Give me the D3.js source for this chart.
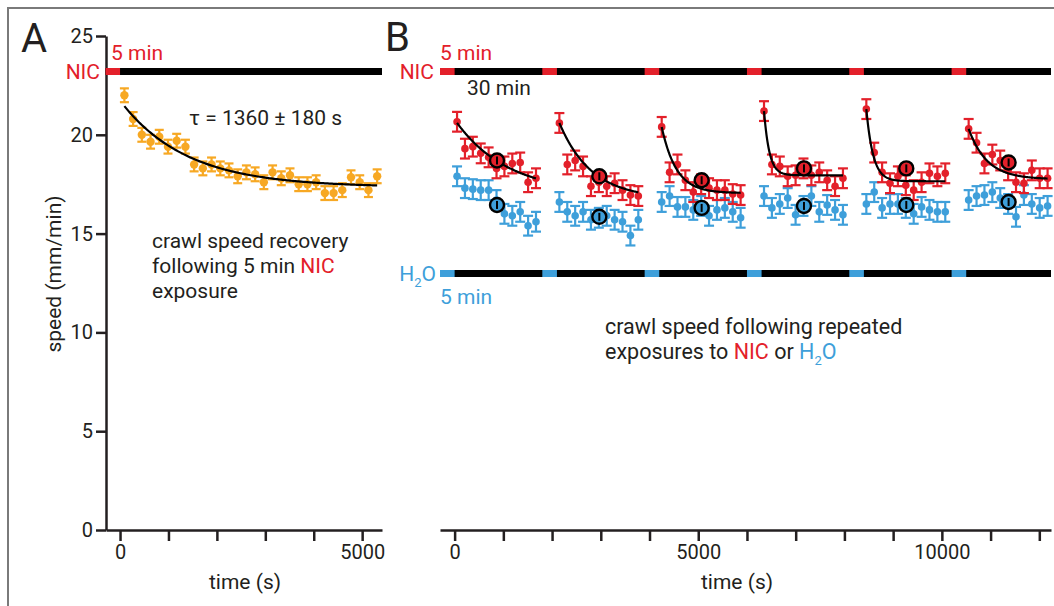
<!DOCTYPE html>
<html><head><meta charset="utf-8">
<script src="https://cdn.jsdelivr.net/npm/d3@7"></script>
<style>body{margin:0;background:#fff}text{font-family:Roboto,"Open Sans",sans-serif;fill:#231f20}</style>
</head><body><svg id="c" width="1054" height="606"></svg>
<script>
// ---------- DATA ----------
const timeA  = [90,270,450,630,810,990,1170,1350,1530,1710,1890,2070,2250,2430,2610,2790,2970,3150,3330,3510,3690,3870,4050,4230,4410,4590,4770,4950,5130,5310];
const speedA = [22.0,20.8,20.0,19.65,19.9,19.4,19.7,19.4,18.5,18.3,18.5,18.3,18.2,17.9,18.1,18.0,17.6,18.1,17.8,17.95,17.5,17.5,17.6,17.05,17.05,17.2,17.85,17.6,17.2,17.9];
const errA   = 0.35;
const fitA_plateau = 17.35, fitA_amp = 4.38, fitA_tau = 1360, fitA_range = [90, 5310];

const exposureStarts = [-300,1800,3900,6000,8100,10200];
const exposureDur = 300;
const blockStarts = [0,2100,4200,6300,8400,10500];
const offsetsB = [50,212,374,536,698,860,1022,1184,1346,1508,1670];
const nicB = [
  [20.66,19.3,19.4,19.06,18.86,18.3,18.4,18.55,18.6,17.6,17.8],
  [20.6,18.5,18.7,18.4,17.4,17.6,17.4,17.55,17.2,16.95,16.9],
  [20.4,18.1,18.5,17.7,17.1,17.5,17.3,17.2,17.2,17.0,16.95],
  [21.2,18.5,18.4,17.9,17.95,18.3,17.95,18.1,17.7,17.4,17.8],
  [21.3,19.1,18.1,17.55,17.9,17.45,17.2,17.6,18.05,17.9,18.05],
  [20.3,19.6,18.55,19.0,18.7,18.2,17.6,17.55,18.2,17.8,17.8]
];
const h2oB = [
  [17.9,17.3,17.25,17.2,17.2,16.7,16.0,15.9,16.1,15.4,15.6],
  [16.6,16.1,15.9,16.1,15.7,15.8,15.9,15.7,15.6,14.9,15.7],
  [16.6,16.9,16.35,16.35,16.2,16.4,15.9,16.2,16.3,16.1,15.8],
  [16.9,16.3,16.5,16.8,15.95,16.4,16.9,16.1,16.45,16.2,15.95],
  [16.5,17.1,16.3,16.5,16.5,16.3,16.0,16.35,16.2,16.1,16.1],
  [16.7,16.9,16.95,17.1,16.8,16.5,15.85,16.95,16.5,16.3,16.4]
];
const errB = 0.5;
const meanOffset = 870;
const nicMean = [18.7,17.9,17.7,18.3,18.3,18.6];
const h2oMean = [16.45,15.85,16.3,16.4,16.45,16.6];
const fitB_y0      = [20.6,20.6,20.4,21.2,21.3,20.3];
const fitB_plateau = [17.0,16.76,17.05,17.95,17.65,17.75];
const fitB_tau     = [1070,660,300,110,140,380];
const yTicks = [0,5,10,15,20,25];

// ---------- STYLE ----------
const ORANGE = "#F7A823", RED = "#E3202A", BLUE = "#3E9FDA", INK = "#231f20";
const FONT = "Roboto";
const svg = d3.select("#c");
svg.append("rect").attr("x",8).attr("y",8).attr("width",1100).attr("height",700)
  .attr("fill","none").attr("stroke","#7a7a7a").attr("stroke-width",2);

const y = d3.scaleLinear().domain([0,25]).range([530,36]);
const xA = d3.scaleLinear().domain([-290,5410]).range([106,382]);
const xB = d3.scaleLinear().domain([-300,12240]).range([440,1051]);

function styleAxis(g){
  g.selectAll("path,line").attr("stroke",INK).attr("stroke-width",2.5);
  g.selectAll("text").attr("font-size",20).attr("fill",INK).style("font-family",FONT);
}
svg.append("g").attr("transform","translate(106,0)")
  .call(d3.axisLeft(y).tickValues(yTicks).tickSize(10).tickSizeOuter(0).tickPadding(3))
  .call(styleAxis);
svg.append("g").attr("transform","translate(0,530)")
  .call(d3.axisBottom(xA).tickValues(d3.range(0,5001,1000)).tickFormat(d=>d%5000===0?d:"").tickSize(11).tickSizeOuter(0).tickPadding(4))
  .call(styleAxis);
svg.append("g").attr("transform","translate(0,530)")
  .call(d3.axisBottom(xB).tickValues(d3.range(0,12001,1000)).tickFormat(d=>d%5000===0?d:"").tickSize(11).tickSizeOuter(0).tickPadding(4))
  .call(styleAxis);

function txt(x, yy, s, size, opts={}){
  const t = svg.append("text").attr("x",x).attr("y",yy).attr("font-size",size)
    .attr("text-anchor",opts.anchor||"start");
  if (opts.fill) t.style("fill",opts.fill);
  if (s!==null) t.text(s);
  return t;
}
txt(245,589,"time (s)",21,{anchor:"middle"});
txt(737,589,"time (s)",21,{anchor:"middle"});
svg.append("text").attr("transform","translate(61,274) rotate(-90)").attr("text-anchor","middle").attr("font-size",21).text("speed (mm/min)");

txt(21,52,"A",40);
txt(385,51,"B",40);

function bar(xs, x0, x1, yPos, col, starts){
  svg.append("rect").attr("x",xs(x0)).attr("y",yPos-3.5).attr("width",xs(x1)-xs(x0)).attr("height",7).attr("fill","#000");
  starts.forEach(s=>{
    svg.append("rect").attr("x",xs(s)).attr("y",yPos-3.5).attr("width",xs(s+exposureDur)-xs(s)).attr("height",7).attr("fill",col);
  });
}
bar(xA, -300, 5410, 71.5, RED, [-300]);
bar(xB, -300, 12240, 71.5, RED, exposureStarts);
bar(xB, -300, 12240, 273.5, BLUE, exposureStarts);

txt(111,60,"5 min",21,{fill:RED});
txt(100,79,"NIC",21,{fill:RED,anchor:"end"});
txt(440,60,"5 min",21,{fill:RED});
txt(434,79,"NIC",21,{fill:RED,anchor:"end"});
txt(467,95,"30 min",21);
const h = txt(436,281,null,21,{fill:BLUE,anchor:"end"});
h.append("tspan").text("H"); h.append("tspan").attr("font-size",13).attr("dy",6).text("2"); h.append("tspan").attr("dy",-6).text("O");
txt(440,304,"5 min",21,{fill:BLUE});

txt(189,125,"τ = 1360 ± 180 s",21);
txt(152,248,"crawl speed recovery",21);
const l2 = txt(152,273,null,21);
l2.append("tspan").text("following 5 min "); l2.append("tspan").style("fill",RED).text("NIC");
txt(152,298,"exposure",21);
txt(605,334,"crawl speed following repeated",21.5);
const l4 = txt(605,359,null,21.5);
l4.append("tspan").text("exposures to "); l4.append("tspan").style("fill",RED).text("NIC");
l4.append("tspan").text(" or "); l4.append("tspan").style("fill",BLUE).text("H");
l4.append("tspan").style("fill",BLUE).attr("font-size",13).attr("dy",6).text("2");
l4.append("tspan").style("fill",BLUE).attr("dy",-6).text("O");

function points(xs, ts, vs, err, col, r, cap){
  const g = svg.append("g");
  ts.forEach((t,i)=>{
    const cx = xs(t), v = vs[i];
    g.append("line").attr("x1",cx).attr("x2",cx).attr("y1",y(v-err)).attr("y2",y(v+err)).attr("stroke",col).attr("stroke-width",2.2);
    [v-err,v+err].forEach(e=>g.append("line").attr("x1",cx-cap).attr("x2",cx+cap).attr("y1",y(e)).attr("y2",y(e)).attr("stroke",col).attr("stroke-width",2.2));
    g.append("circle").attr("cx",cx).attr("cy",y(v)).attr("r",r).attr("fill",col);
  });
}
points(xA, timeA, speedA, errA, ORANGE, 4.2, 4.5);
const line = d3.line();
const fa = d3.range(fitA_range[0], fitA_range[1]+1, 30).map(t=>[xA(t), y(fitA_plateau + fitA_amp*Math.exp(-t/fitA_tau))]);
svg.append("path").attr("d",line(fa)).attr("fill","none").attr("stroke","#000").attr("stroke-width",2.2);

blockStarts.forEach((b,k)=>{
  const ts = offsetsB.map(o=>b+o);
  points(xB, ts, h2oB[k], errB, BLUE, 3.8, 5);
  points(xB, ts, nicB[k], errB, RED, 3.8, 5);
  const t0 = ts[0], t1 = ts[ts.length-1];
  const pts = d3.range(t0, t1+1, 10).map(t=>[xB(t), y(fitB_plateau[k] + (fitB_y0[k]-fitB_plateau[k])*Math.exp(-(t-t0)/fitB_tau[k]))]);
  svg.append("path").attr("d",line(pts)).attr("fill","none").attr("stroke","#000").attr("stroke-width",2.2);
  [[nicMean[k],RED],[h2oMean[k],BLUE]].forEach(([v,col])=>{
    const cx = xB(b+meanOffset), cy = y(v);
    svg.append("circle").attr("cx",cx).attr("cy",cy).attr("r",7).attr("fill",col).attr("stroke","#000").attr("stroke-width",2.4);
    svg.append("line").attr("x1",cx).attr("x2",cx).attr("y1",cy-4).attr("y2",cy+4).attr("stroke","#000").attr("stroke-width",2);
  });
});
</script></body></html>
